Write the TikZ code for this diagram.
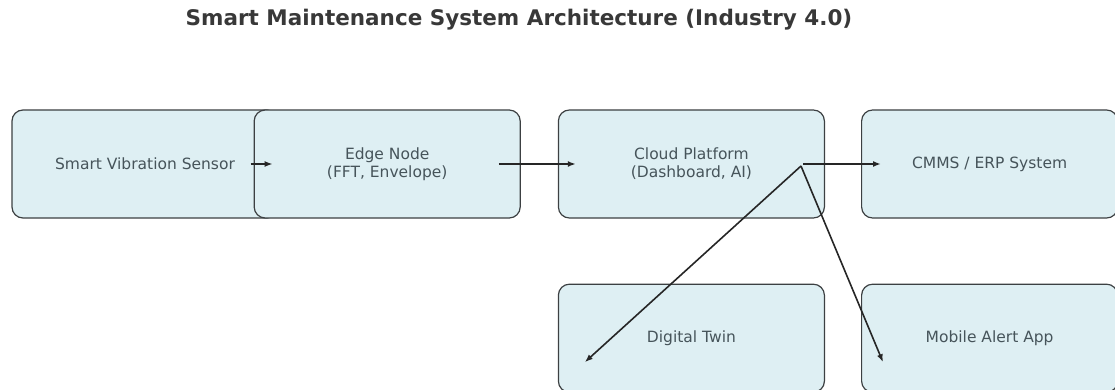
\documentclass[tikz,border=0pt]{standalone}
\usepackage{fontspec}
\setmainfont{DejaVu Sans}
\usetikzlibrary{positioning, arrows.meta}

\definecolor{boxfill}{RGB}{222,239,243}
\definecolor{boxline}{RGB}{60,64,66}
\definecolor{boxtext}{RGB}{70,84,90}

\begin{document}
\begin{tikzpicture}[x=1pt,y=1pt,
    box/.style={draw=boxline, line width=1.2pt, fill=boxfill, rounded corners=11pt,
      minimum width=266pt, minimum height=108pt, align=center, text=boxtext,
      font=\fontsize{15.5}{18}\selectfont},
    arrow/.style={-{Latex[length=8pt,width=6pt]}, line width=1.6pt, draw=black!85}]
        \useasboundingbox (0,0) rectangle (1115,-390);

        \node[font=\bfseries\fontsize{21.5}{24}\selectfont, text=black!78] (title) at (519,-20) {Smart Maintenance System Architecture (Industry 4.0)};

        \node[box] (sensor) at (145,-164) {Smart Vibration Sensor};
        \node[box] (edgen) [right=-25pt of sensor] {Edge Node\\(FFT, Envelope)};
        \node[box] (cloud) [right=37pt of edgen] {Cloud Platform\\(Dashboard, AI)};
        \node[box, minimum width=256pt] (cmms) [right=36pt of cloud] {CMMS / ERP System};
        \node[box] (twin) [below=65pt of cloud] {Digital Twin};
        \node[box, minimum width=256pt] (app) [below=65pt of cmms] {Mobile Alert App};

        \coordinate (hub) at ([xshift=-24pt,yshift=-2pt]cloud.east);

        \path ([xshift=-28pt]sensor.east)
          edge[arrow] ([xshift=19pt]edgen.west);

        \path ([xshift=-22pt]edgen.east)
          edge[arrow] ([xshift=18pt]cloud.west);

        \path ([xshift=-22pt]cloud.east)
          edge[arrow] ([xshift=20pt]cmms.west);

        \path (hub)
          edge[arrow] ([xshift=27pt,yshift=-24pt]twin.west)
          edge[arrow] ([xshift=22pt,yshift=-24pt]app.west);
      \end{tikzpicture}
\end{document}
